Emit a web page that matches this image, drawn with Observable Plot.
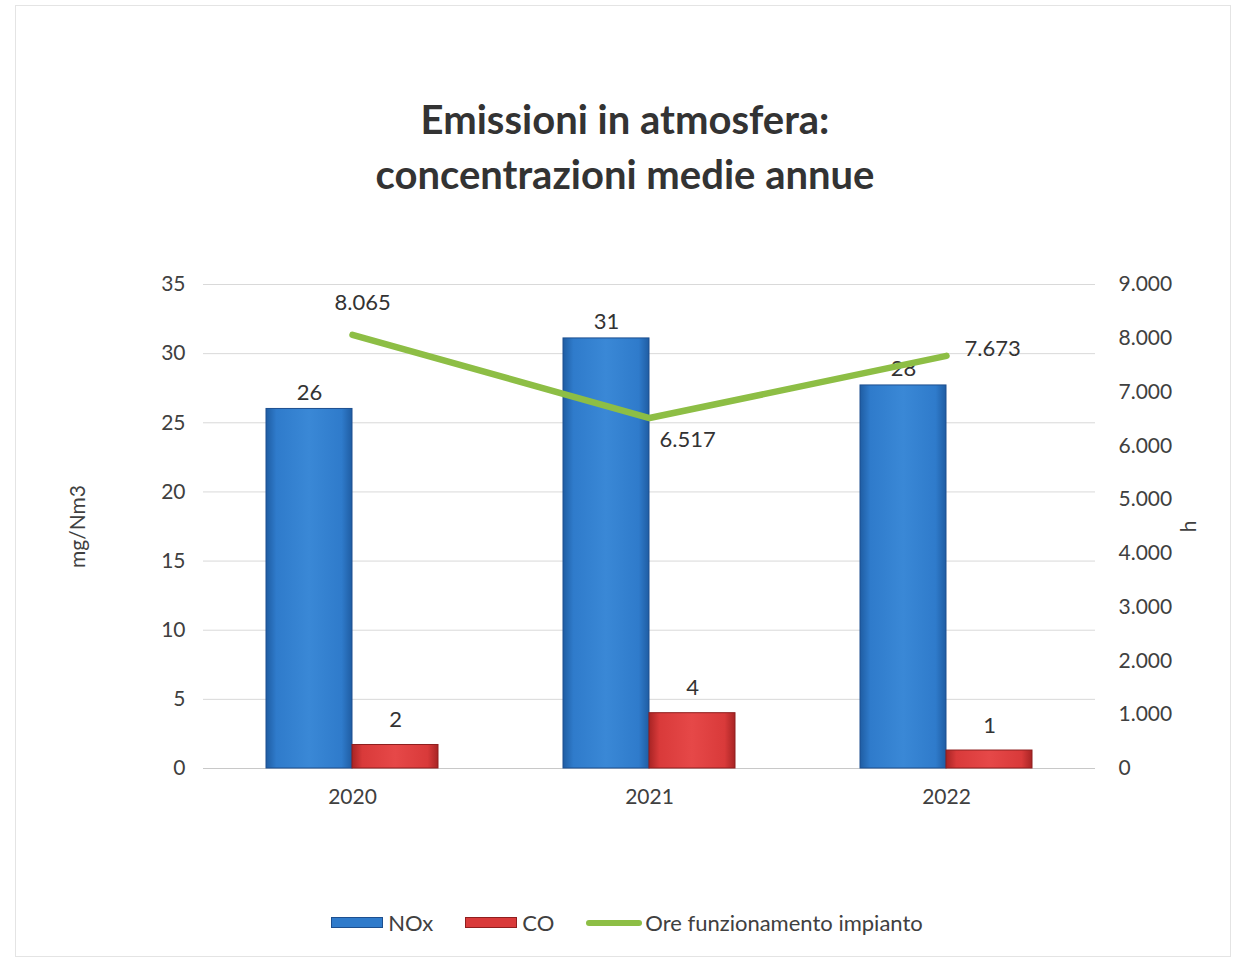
<!DOCTYPE html>
<html>
<head>
<meta charset="utf-8">
<script src="https://cdn.jsdelivr.net/npm/d3@7"></script>
<script src="https://cdn.jsdelivr.net/npm/@observablehq/plot@0.6"></script>
<style>
  html, body { margin: 0; padding: 0; background: #fff; }
  #page { position: relative; width: 1244px; height: 967px; font-family: Lato, "Noto Sans", sans-serif; color: #404040; overflow: hidden; }
  #frame { position: absolute; left: 15px; top: 5px; width: 1216px; height: 952px; border: 1px solid #e4e4e4; box-sizing: border-box; }
  #title { position: absolute; left: 0; top: 92px; width: 1244px; text-align: center; font-size: 40px; font-weight: bold; line-height: 55px; color: #333; padding-left: 6px; box-sizing: border-box; }
  #chart { position: absolute; left: 0; top: 240px; }
  #legend { position: absolute; left: 0; top: 909px; width: 1244px; display: flex; justify-content: center; align-items: center; font-size: 22px; color: #404040; padding-left: 10px; box-sizing: border-box; }
  .item { display: flex; align-items: center; margin: 0 16px; }
  .sw { width: 52px; height: 11px; margin-right: 5px; box-sizing: border-box; }
  .ln { width: 56px; height: 6px; border-radius: 3px; margin-right: 3px; }
</style>
</head>
<body>
<div id="page">
  <div id="frame"></div>
  <div id="title">Emissioni in atmosfera:<br>concentrazioni medie annue</div>
  <div id="chart"></div>
  <div id="legend"></div>
</div>
<script>
// ---- data ----
const years = ["2020", "2021", "2022"];
const nox = [26, 31.1, 27.7];
const co = [1.7, 4.0, 1.3];
const ore = [8065, 6517, 7673];
const leftTicks = [0, 5, 10, 15, 20, 25, 30, 35];
const rightTicks = [0, 1000, 2000, 3000, 4000, 5000, 6000, 7000, 8000, 9000];
const seriesNames = ["NOx", "CO", "Ore funzionamento impianto"];

const leftMax = 35, rightMax = 9000;
const toLeft = v => v * leftMax / rightMax;
const it = d3.formatLocale({decimal: ",", thousands: ".", grouping: [3], currency: ["€", ""]});
const fmtThousands = it.format(",");

const noxData = years.map((y, i) => ({year: y, v: nox[i]}));
const coData = years.map((y, i) => ({year: y, v: co[i]}));
const oreData = years.map((y, i) => ({year: y, v: ore[i], y2: toLeft(ore[i])}));

const blue = "#2f7bcb", red = "#d93a3a", green = "#8dbe45";
const halfBar = 86;
const font = "Lato, 'Noto Sans', sans-serif";

// per-point label offsets for the line labels
const oreLabelPos = [
  {dx: -18, dy: -32},
  {dx: 10, dy: 22},
  {dx: 18, dy: -7}
];

const plot = Plot.plot({
  width: 1244,
  height: 600,
  marginTop: 44,
  marginBottom: 72,
  marginLeft: 203,
  marginRight: 149,
  style: {fontFamily: font, fontSize: "21px", color: "#404040", background: "transparent"},
  x: {domain: years, paddingInner: 0.42, paddingOuter: 0.21, label: null},
  y: {domain: [0, leftMax], label: null},
  marks: [
    Plot.gridY(leftTicks, {stroke: "#d9d9d9", strokeOpacity: 1}),
    Plot.ruleY([0], {stroke: "#c8c8c8"}),
    Plot.barY(noxData, {x: "year", y: "v", insetRight: halfBar, fill: "url(#gBlue)", stroke: "#1d4f8f", strokeWidth: 1}),
    Plot.barY(coData, {x: "year", y: "v", insetLeft: halfBar, fill: "url(#gRed)", stroke: "#8f1f1f", strokeWidth: 1}),
    Plot.text(noxData, {x: "year", y: "v", text: d => d3.format(".0f")(d.v), dx: -halfBar / 2, dy: -16, fill: "#333", fontSize: 22}),
    Plot.text(coData, {x: "year", y: "v", text: d => d3.format(".0f")(d.v), dx: halfBar / 2, dy: -25, fill: "#333", fontSize: 22}),
    Plot.line(oreData, {x: "year", y: "y2", stroke: green, strokeWidth: 6.5, strokeLinecap: "round", strokeLinejoin: "round"}),
    ...oreData.map((d, i) => Plot.text([d], {x: "year", y: "y2", text: e => fmtThousands(e.v), textAnchor: "start", dx: oreLabelPos[i].dx, dy: oreLabelPos[i].dy, fill: "#333", fontSize: 22})),
    Plot.axisY(leftTicks, {anchor: "left", tickSize: 0, tickPadding: 18, fontSize: 21, label: "mg/Nm3", labelAnchor: "center", labelOffset: 133, labelArrow: "none"}),
    Plot.axisY(rightTicks.map(toLeft), {anchor: "right", tickSize: 0, tickPadding: 23, fontSize: 21, tickFormat: d => fmtThousands(Math.round(d * rightMax / leftMax)), label: "h", labelAnchor: "center", labelOffset: 100, labelArrow: "none"}),
    Plot.axisX({tickSize: 0, tickPadding: 21, fontSize: 21, label: null})
  ]
});

// gradients for the bevelled bars
const svg = d3.select(plot);
const defs = svg.insert("defs", ":first-child");
function grad(id, edge, mid, hi) {
  const g = defs.append("linearGradient").attr("id", id).attr("x1", "0").attr("x2", "1").attr("y1", "0").attr("y2", "0");
  g.append("stop").attr("offset", "0").attr("stop-color", edge);
  g.append("stop").attr("offset", "0.12").attr("stop-color", mid);
  g.append("stop").attr("offset", "0.5").attr("stop-color", hi);
  g.append("stop").attr("offset", "0.88").attr("stop-color", mid);
  g.append("stop").attr("offset", "1").attr("stop-color", edge);
}
grad("gBlue", "#1f5da3", blue, "#3a88d6");
grad("gRed", "#a82424", red, "#e64848");

document.getElementById("chart").appendChild(plot);

// legend
const legend = document.getElementById("legend");
const items = [
  {name: seriesNames[0], type: "bar", color: blue, border: "#1d4f8f"},
  {name: seriesNames[1], type: "bar", color: red, border: "#8f1f1f"},
  {name: seriesNames[2], type: "line", color: green}
];
for (const s of items) {
  const el = document.createElement("div");
  el.className = "item";
  const sw = document.createElement("div");
  if (s.type === "bar") {
    sw.className = "sw";
    sw.style.background = s.color;
    sw.style.border = "1px solid " + s.border;
  } else {
    sw.className = "ln";
    sw.style.background = s.color;
  }
  const tx = document.createElement("span");
  tx.textContent = s.name;
  el.appendChild(sw);
  el.appendChild(tx);
  legend.appendChild(el);
}
</script>
</body>
</html>
